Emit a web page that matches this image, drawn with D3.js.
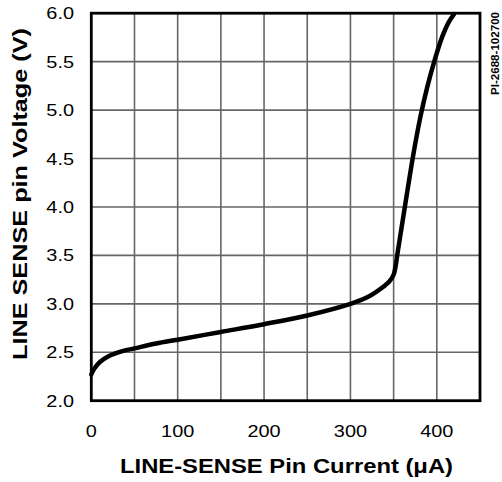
<!DOCTYPE html>
<html>
<head>
<meta charset="utf-8">
<script src="https://cdn.jsdelivr.net/npm/d3@7"></script>
<style>
  body { margin: 0; background: #fff; }
  text { font-family: "Liberation Sans", Arial, sans-serif; fill: #000; }
</style>
</head>
<body>
<svg id="svg"></svg>
<script>

const width = 502;
const height = 482;

// LINE-SENSE pin current (uA) vs voltage (V)
const current = [0, 2, 5, 10, 20, 35, 50, 75, 100, 150, 200, 250, 300, 320, 340, 345, 350, 355, 363, 373, 381, 389, 397, 406, 414, 420];
const voltage = [2.27, 2.31, 2.35, 2.40, 2.46, 2.51, 2.54, 2.59, 2.63, 2.71, 2.79, 2.88, 3.00, 3.07, 3.19, 3.23, 3.30, 3.55, 4.0, 4.55, 4.93, 5.24, 5.5, 5.75, 5.91, 5.99];

const xTicks = [0, 100, 200, 300, 400];
const xGrid = [50, 100, 150, 200, 250, 300, 350, 400];
const yTicks = [2.0, 2.5, 3.0, 3.5, 4.0, 4.5, 5.0, 5.5, 6.0];

const stretch = 1.17; // text in the original is a bit wide

const x = d3.scaleLinear().domain([0, 450]).range([91.3, 480]);
const y = d3.scaleLinear().domain([2, 6]).range([400.7, 13.2]);

const svg = d3.select("#svg")
			.attr("width", width)
			.attr("height", height);

// grid
svg.append("g")
	.selectAll("line")
	.data(xGrid)
	.enter().append("line")
	.attr("x1", d => x(d)).attr("x2", d => x(d))
	.attr("y1", y(2)).attr("y2", y(6))
	.style("stroke", "#666")
	.style("stroke-width", 1.6);

svg.append("g")
	.selectAll("line")
	.data(yTicks.slice(1, -1))
	.enter().append("line")
	.attr("x1", x(0)).attr("x2", x(450))
	.attr("y1", d => y(d)).attr("y2", d => y(d))
	.style("stroke", "#666")
	.style("stroke-width", 1.6);

// frame
svg.append("rect")
	.attr("x", x(0)).attr("y", y(6))
	.attr("width", x(450) - x(0))
	.attr("height", y(2) - y(6))
	.style("fill", "none")
	.style("stroke", "#000")
	.style("stroke-width", 2.8);

// curve
const line = d3.line()
	.x((d, i) => x(current[i]))
	.y(d => y(d))
	.curve(d3.curveCatmullRom.alpha(0.5));

svg.append("path")
	.datum(voltage)
	.attr("d", line)
	.style("fill", "none")
	.style("stroke", "#000")
	.style("stroke-width", 4.5)
	.style("stroke-linecap", "round");

// tick labels
svg.append("g")
	.selectAll("text")
	.data(yTicks)
	.enter().append("text")
	.attr("transform", d => `translate(74,${y(d) + 6}) scale(${stretch},1)`)
	.attr("text-anchor", "end")
	.style("font-size", "17px")
	.text(d => d.toFixed(1));

svg.append("g")
	.selectAll("text")
	.data(xTicks)
	.enter().append("text")
	.attr("transform", d => `translate(${x(d)},437) scale(${stretch},1)`)
	.attr("text-anchor", "middle")
	.style("font-size", "17px")
	.text(d => d);

// axis titles
svg.append("text")
	.attr("x", 120).attr("y", 473)
	.attr("textLength", 333)
	.attr("lengthAdjust", "spacingAndGlyphs")
	.style("font-size", "21px")
	.style("font-weight", "bold")
	.text("LINE-SENSE Pin Current (\u03BCA)");

svg.append("text")
	.attr("transform", "translate(27,360) rotate(-90)")
	.attr("textLength", 332)
	.attr("lengthAdjust", "spacingAndGlyphs")
	.style("font-size", "21px")
	.style("font-weight", "bold")
	.text("LINE SENSE pin Voltage (V)");

svg.append("text")
	.attr("transform", "translate(499,95) rotate(-90)")
	.attr("textLength", 83)
	.attr("lengthAdjust", "spacingAndGlyphs")
	.style("font-size", "11.5px")
	.style("font-weight", "bold")
	.text("PI-2688-102700");

</script>
</body>
</html>
